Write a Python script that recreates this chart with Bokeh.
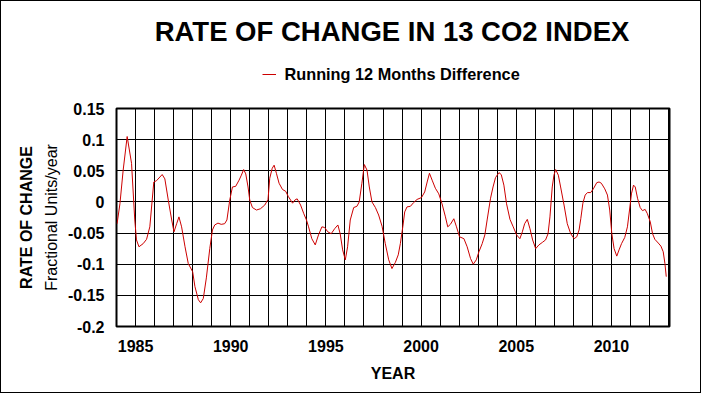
from bokeh.plotting import figure
from bokeh.layouts import column
from bokeh.models import (Range1d, FixedTicker, Legend, LegendItem, Title, Label,
                          ColumnDataSource)
from bokeh.embed import file_html
from bokeh.resources import INLINE

# ---------------- data ----------------
years = [
    1984.03, 1984.18, 1984.35, 1984.56, 1984.79, 1984.96, 1985.05, 1985.18, 1985.40, 1985.58,
    1985.75, 1985.96, 1986.10, 1986.40, 1986.54, 1986.72, 1986.90, 1987.02, 1987.16, 1987.28,
    1987.42, 1987.60, 1987.77, 1988.00, 1988.12, 1988.30, 1988.42, 1988.56, 1988.72, 1988.90,
    1989.04, 1989.16, 1989.33, 1989.50, 1989.68, 1989.80, 1989.95, 1990.09, 1990.26, 1990.44,
    1990.56, 1990.68, 1990.79, 1990.91, 1991.00, 1991.14, 1991.35, 1991.56, 1991.79, 1991.96,
    1992.05, 1992.18, 1992.28, 1992.40, 1992.54, 1992.72, 1992.89, 1993.02, 1993.25, 1993.37,
    1993.49, 1993.67, 1993.84, 1993.98, 1994.09, 1994.26, 1994.44, 1994.61, 1994.79, 1994.93,
    1995.10, 1995.28, 1995.46, 1995.63, 1995.75, 1995.88, 1996.02, 1996.14, 1996.28, 1996.46,
    1996.63, 1996.75, 1996.89, 1997.02, 1997.16, 1997.28, 1997.42, 1997.60, 1997.77, 1997.95,
    1998.12, 1998.30, 1998.47, 1998.65, 1998.80, 1998.91, 1999.04, 1999.14, 1999.26, 1999.44,
    1999.61, 1999.79, 2000.02, 2000.19, 2000.32, 2000.44, 2000.58, 2000.75, 2000.93, 2001.10,
    2001.28, 2001.40, 2001.54, 2001.72, 2001.86, 2002.02, 2002.25, 2002.42, 2002.60, 2002.74,
    2002.90, 2003.04, 2003.21, 2003.35, 2003.47, 2003.65, 2003.78, 2003.91, 2004.09, 2004.21,
    2004.35, 2004.49, 2004.67, 2004.84, 2005.02, 2005.19, 2005.32, 2005.44, 2005.58, 2005.72,
    2005.86, 2006.02, 2006.19, 2006.37, 2006.54, 2006.67, 2006.77, 2006.89, 2006.98, 2007.07,
    2007.21, 2007.33, 2007.51, 2007.68, 2007.86, 2008.04, 2008.18, 2008.30, 2008.39, 2008.50,
    2008.62, 2008.74, 2008.91, 2009.05, 2009.23, 2009.35, 2009.47, 2009.65, 2009.79, 2009.91,
    2010.02, 2010.14, 2010.28, 2010.40, 2010.53, 2010.70, 2010.84, 2010.95, 2011.05, 2011.16,
    2011.25, 2011.37, 2011.51, 2011.63, 2011.77, 2011.89, 2012.04, 2012.16, 2012.28, 2012.46,
    2012.60, 2012.72, 2012.81, 2012.88,
]
difference = [
    -0.035, -0.003, 0.051, 0.105, 0.062, -0.029, -0.061, -0.072, -0.067, -0.060,
    -0.040, 0.032, 0.034, 0.044, 0.037, 0.003, -0.029, -0.048, -0.035, -0.024,
    -0.040, -0.072, -0.099, -0.112, -0.136, -0.157, -0.162, -0.155, -0.122, -0.075,
    -0.045, -0.037, -0.034, -0.036, -0.035, -0.029, 0.003, 0.024, 0.025, 0.035,
    0.043, 0.052, 0.045, 0.024, 0.003, -0.009, -0.013, -0.011, -0.005, 0.004,
    0.038, 0.054, 0.059, 0.046, 0.030, 0.020, 0.017, 0.009, -0.002, 0.003,
    0.005, -0.005, -0.019, -0.029, -0.040, -0.059, -0.069, -0.053, -0.040, -0.041,
    -0.048, -0.051, -0.043, -0.037, -0.051, -0.077, -0.093, -0.072, -0.029, -0.009,
    -0.007, 0.000, 0.030, 0.060, 0.051, 0.024, 0.000, -0.009, -0.021, -0.039,
    -0.067, -0.093, -0.107, -0.097, -0.085, -0.067, -0.040, -0.016, -0.008, -0.007,
    -0.001, 0.004, 0.007, 0.016, 0.032, 0.046, 0.035, 0.022, 0.013, -0.003,
    -0.024, -0.040, -0.036, -0.027, -0.040, -0.056, -0.059, -0.072, -0.091, -0.100,
    -0.093, -0.080, -0.067, -0.053, -0.029, 0.006, 0.024, 0.039, 0.047, 0.044,
    0.027, -0.003, -0.028, -0.040, -0.053, -0.059, -0.048, -0.035, -0.028, -0.043,
    -0.061, -0.075, -0.069, -0.065, -0.061, -0.051, -0.024, 0.024, 0.043, 0.052,
    0.043, 0.024, -0.005, -0.035, -0.051, -0.059, -0.056, -0.045, -0.027, -0.002,
    0.011, 0.015, 0.015, 0.021, 0.031, 0.032, 0.030, 0.021, 0.011, -0.013,
    -0.051, -0.075, -0.087, -0.077, -0.067, -0.057, -0.040, -0.013, 0.013, 0.027,
    0.024, 0.006, -0.009, -0.014, -0.012, -0.019, -0.032, -0.051, -0.060, -0.066,
    -0.071, -0.080, -0.099, -0.120,
]

y_ticks = [0.15, 0.1, 0.05, 0.0, -0.05, -0.1, -0.15, -0.2]
y_tick_labels = ["0.15", "0.1", "0.05", "0", "-0.05", "-0.1", "-0.15", "-0.2"]
x_ticks = [1985, 1990, 1995, 2000, 2005, 2010]
x_grid_years = list(range(1984, 2014))

title_text = "RATE OF CHANGE IN 13 CO2 INDEX"
series_name = "Running 12 Months Difference"
y_label_1 = "RATE OF CHANGE"
y_label_2 = "Fractional Units/year"
x_label = "YEAR"

# ---------------- layout constants ----------------
FONT = "Liberation Sans"
LINE_COLOR = "#cc0000"
W = 699                  # + 1px CSS border on each side = 701
H_TOP = 90               # header strip: title + legend
H_MAIN = 301             # chart; 90 + 301 + 2 = 393
BL, BR, BT, BB = 115, 31, 17, 66

src = ColumnDataSource(dict(x=years, y=difference))

# ---------------- header strip (title + legend) ----------------
# (its frame is aligned with the chart frame by the column layout)
head = figure(width=W, height=H_TOP, output_backend="svg", toolbar_location=None,
              x_axis_type=None, y_axis_type=None,
              x_range=Range1d(0, 1), y_range=Range1d(0, 1),
              min_border=0, min_border_left=0, min_border_right=0,
              min_border_top=0, min_border_bottom=0,
              background_fill_color="white", border_fill_color="white")
head.outline_line_color = None
head.xgrid.visible = False
head.ygrid.visible = False

head.add_layout(Label(x=275.5, y=H_TOP - 30, x_units="screen", y_units="screen",
                      text=title_text, text_align="center", text_baseline="middle",
                      text_font=FONT, text_font_size="27.5px", text_font_style="bold",
                      text_color="black"))

# legend key: same series, lying outside this strip's ranges, so only its key shows
key = head.line("x", "y", source=src, line_color=LINE_COLOR, line_width=1)
legend = Legend(items=[LegendItem(label=series_name, renderers=[key])],
                location=(145.5, H_TOP - 73 - 10), orientation="horizontal",
                margin=0, padding=0, spacing=0,
                glyph_width=14, glyph_height=20, label_standoff=9, label_height=20,
                label_text_font=FONT, label_text_font_size="16.3px",
                label_text_font_style="bold", label_text_color="black",
                border_line_alpha=0, background_fill_alpha=0)
head.add_layout(legend)

# ---------------- main chart ----------------
p = figure(width=W, height=H_MAIN, output_backend="svg", toolbar_location=None,
           x_range=Range1d(1984, 2013.05), y_range=Range1d(-0.2, 0.15),
           min_border_left=BL, min_border_right=BR, min_border_top=BT, min_border_bottom=BB,
           background_fill_color="white", border_fill_color="white")

p.outline_line_color = "black"
p.outline_line_width = 2
p.outline_line_alpha = 1

p.line("x", "y", source=src, line_color=LINE_COLOR, line_width=1)

p.xgrid.ticker = FixedTicker(ticks=x_grid_years)
p.ygrid.ticker = FixedTicker(ticks=y_ticks)
for g in (p.xgrid, p.ygrid):
    g.grid_line_color = "black"
    g.grid_line_alpha = 1
    g.grid_line_width = 1

xa = p.xaxis[0]
xa.ticker = FixedTicker(ticks=x_ticks)
ya = p.yaxis[0]
ya.ticker = FixedTicker(ticks=y_ticks)
ya.major_label_overrides = {t: s for t, s in zip(y_ticks, y_tick_labels)}
for ax in (xa, ya):
    ax.axis_line_color = None
    ax.major_tick_in = 0
    ax.major_tick_out = 0
    ax.minor_tick_in = 0
    ax.minor_tick_out = 0
    ax.major_label_text_font = FONT
    ax.major_label_text_font_size = "16px"
    ax.major_label_text_font_style = "bold"
    ax.major_label_text_color = "black"
ya.major_label_standoff = 12
xa.major_label_standoff = 13

xa.axis_label = x_label
xa.axis_label_text_font = FONT
xa.axis_label_text_font_size = "16px"
xa.axis_label_text_font_style = "bold"
xa.axis_label_text_color = "black"
xa.axis_label_standoff = 10

# two-line y label as side titles (inner first)
p.add_layout(Title(text=y_label_2, align="center", standoff=11, text_font=FONT,
                   text_font_size="16px", text_font_style="normal", text_color="black"), "left")
p.add_layout(Title(text=y_label_1, align="center", standoff=2, text_font=FONT,
                   text_font_size="16px", text_font_style="bold", text_color="black"), "left")

page = column(head, p, spacing=0)
page.styles = {"border": "1px solid black"}

open("out.html", "w").write(file_html(page, INLINE))
